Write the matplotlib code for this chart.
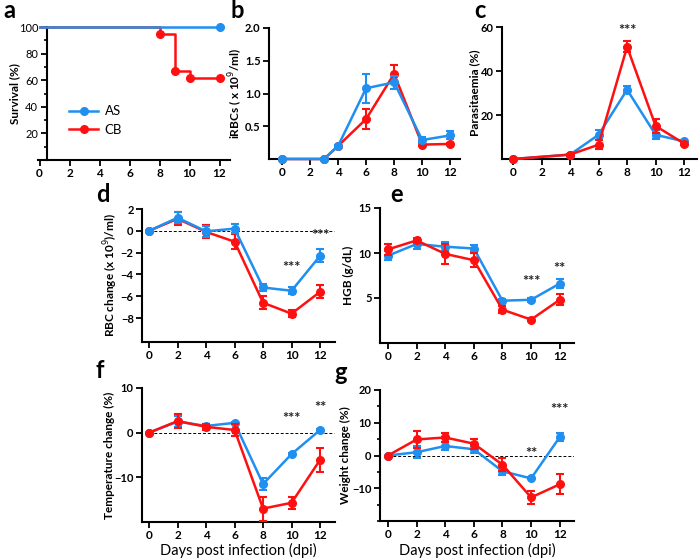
import matplotlib
matplotlib.use('Agg')
import matplotlib.pyplot as plt
from matplotlib.ticker import MultipleLocator

plt.rcParams['font.family'] = ['Lato', 'DejaVu Sans']

BLUE = '#1f8ff0'
RED = '#ff1010'

days = [0, 2, 4, 6, 8, 10, 12]

# a - survival
surv_days_as = [0, 12]
surv_as = [100, 100]
surv_days_cb = [0, 8, 9, 10, 12]
surv_cb = [100, 95, 67, 62, 62]

# b - iRBCs
irbc_days = [0, 3, 4, 6, 8, 10, 12]
irbc_as = [0, 0, 0.2, 1.08, 1.17, 0.29, 0.36]
irbc_as_err = [0, 0, 0.02, 0.22, 0.10, 0.05, 0.06]
irbc_cb = [0, 0, 0.2, 0.61, 1.30, 0.22, 0.23]
irbc_cb_err = [0, 0, 0.02, 0.15, 0.13, 0.02, 0.02]

# c - parasitaemia
para_days = [0, 4, 6, 8, 10, 12]
para_as = [0, 2, 11, 31.5, 11, 8]
para_as_err = [0, 0.3, 2.2, 1.5, 2.0, 0.8]
para_cb = [0, 2, 6.5, 51, 15, 7]
para_cb_err = [0, 0.3, 2.0, 2.5, 3.0, 0.8]

# d - RBC change
rbc_as = [0, 1.2, -0.05, 0.2, -5.2, -5.5, -2.3]
rbc_as_err = [0, 0.5, 0.5, 0.4, 0.3, 0.3, 0.6]
rbc_cb = [0, 1.1, -0.1, -1.0, -6.6, -7.6, -5.6]
rbc_cb_err = [0, 0.6, 0.6, 0.7, 0.6, 0.3, 0.6]

# e - HGB
hgb_as = [9.7, 11.0, 10.7, 10.5, 4.7, 4.8, 6.6]
hgb_as_err = [0.5, 0.5, 0.5, 0.4, 0.2, 0.2, 0.5]
hgb_cb = [10.4, 11.4, 9.9, 9.2, 3.7, 2.6, 4.8]
hgb_cb_err = [0.6, 0.3, 1.1, 0.8, 0.4, 0.2, 0.6]

# f - temperature change
temp_as = [0, 2.5, 1.5, 2.2, -11.5, -4.8, 0.6]
temp_as_err = [0, 1.2, 0.5, 0.3, 1.3, 0.3, 0.3]
temp_cb = [0, 2.6, 1.3, 0.6, -17.0, -15.7, -6.1]
temp_cb_err = [0, 1.5, 0.6, 1.3, 2.7, 1.3, 2.6]

# g - weight change
wt_as = [0, 1.0, 2.9, 1.9, -4.8, -7.0, 5.6]
wt_as_err = [0, 1.8, 1.2, 1.0, 1.2, 0.3, 1.3]
wt_cb = [0, 4.9, 5.5, 3.6, -2.8, -12.8, -8.8]
wt_cb_err = [0, 2.5, 1.5, 1.5, 2.0, 2.0, 3.0]

W, H = 700, 560
fig = plt.figure(figsize=(7, 5.6), dpi=100)


def px_axes(left, right, top, bottom):
    ax = fig.add_axes([left / W, 1 - bottom / H, (right - left) / W, (bottom - top) / H])
    ax.px_box = (left, right, top, bottom)
    return ax


def style(ax, xlim, ylim, yticks, ylabel, label_x):
    ax.set_xlim(*xlim)
    ax.set_ylim(*ylim)
    ax.spines['top'].set_visible(False)
    ax.spines['right'].set_visible(False)
    ax.spines['left'].set_linewidth(1.5)
    ax.spines['bottom'].set_linewidth(1.5)
    ax.set_xticks(days)
    ax.set_yticks(yticks)
    ax.tick_params(width=1.3, length=4, labelsize=8.5, pad=2)
    ax.tick_params(axis='y', labelsize=8)
    for lab in ax.get_xticklabels() + ax.get_yticklabels():
        lab.set_fontweight('bold')
    ax.set_ylabel(ylabel, fontsize=8.5, fontweight='bold', va='center')
    left, right, top, bottom = ax.px_box
    ax.yaxis.set_label_coords((label_x - left) / (right - left), 0.5)


def xlabel(ax, text):
    left, right, top, bottom = ax.px_box
    ax.set_xlabel(text, fontsize=10.5, va='center')
    ax.xaxis.set_label_coords(0.5, (bottom - 550) / (bottom - top))


def series(ax, x, y, err, color, z):
    ax.errorbar(x, y, yerr=err, color=color, lw=1.8, marker='o', ms=5.5,
                capsize=3, elinewidth=1.5, capthick=1.5, zorder=z, clip_on=False)


def stars(ax, x, y, txt):
    ax.text(x, y, txt, ha='center', va='center', fontsize=10.5, fontweight='bold', color='#222222')


def zero_line(ax):
    ax.plot([0, 13], [0, 0], ls='--', color='black', lw=0.7, dashes=(3, 2), zorder=1)


# panel a
ax = px_axes(38, 230, 27, 160)
style(ax, (-0.1, 12.7), (0, 100), [20, 40, 60, 80, 100], 'Survival (%)', 15)
ax.spines['left'].set_position(('data', 0.47))
ax.yaxis.set_minor_locator(MultipleLocator(10))
ax.tick_params(which='minor', length=2.5, width=1.2)
ax.step(surv_days_cb, surv_cb, where='post', color=RED, lw=1.8, zorder=3, clip_on=False)
ax.plot(surv_days_cb[1:], surv_cb[1:], 'o', color=RED, ms=5.5, zorder=3, clip_on=False)
ax.plot(surv_days_as, surv_as, color=BLUE, lw=1.8, zorder=4, clip_on=False)
ax.plot(surv_days_as[-1:], surv_as[-1:], 'o', color=BLUE, ms=5.5, zorder=4, clip_on=False)
h1, = ax.plot([], [], color=BLUE, lw=1.8, marker='o', ms=5.5)
h2, = ax.plot([], [], color=RED, lw=1.8, marker='o', ms=5.5)
ax.legend([h1, h2], ['AS', 'CB'], loc='upper left', bbox_to_anchor=(0.1, 0.5), frameon=False,
          fontsize=9.5, handlelength=2.2, labelspacing=0.5, handletextpad=0.5)

# panel b
ax = px_axes(269, 460, 28, 159)
style(ax, (-0.93, 12.7), (0, 2.0), [0.5, 1.0, 1.5, 2.0], 'iRBCs ( x 10$^{9}$/ml)', 236)
ax.set_yticklabels(['0.5', '1.0', '1.5', '2.0'], fontweight='bold')
series(ax, irbc_days, irbc_cb, irbc_cb_err, RED, 3)
series(ax, irbc_days, irbc_as, irbc_as_err, BLUE, 4)

# panel c
ax = px_axes(502, 697, 27, 159)
style(ax, (-0.77, 12.9), (0, 60), [20, 40, 60], 'Parasitaemia (%)', 475)
series(ax, para_days, para_as, para_as_err, BLUE, 3)
series(ax, para_days, para_cb, para_cb_err, RED, 4)
stars(ax, 8, 58, '***')

# panel d
ax = px_axes(142, 335, 209, 342)
style(ax, (-0.5, 13.05), (-10.2, 2), [-8, -6, -4, -2, 0, 2], 'RBC change (x 10$^{9}$)/ml)', 111)
zero_line(ax)
series(ax, days, rbc_cb, rbc_cb_err, RED, 3)
series(ax, days, rbc_as, rbc_as_err, BLUE, 4)
stars(ax, 10, -3.4, '***')
stars(ax, 12, -0.45, '***')

# panel e
ax = px_axes(380, 574, 208, 343)
style(ax, (-0.56, 13.0), (0, 15), [5, 10, 15], 'HGB (g/dL)', 348)
series(ax, days, hgb_as, hgb_as_err, BLUE, 3)
series(ax, days, hgb_cb, hgb_cb_err, RED, 4)
stars(ax, 10, 6.8, '***')
stars(ax, 12, 8.2, '**')

# panel f
ax = px_axes(142, 335, 388, 522)
style(ax, (-0.5, 13.05), (-20, 10), [-10, 0, 10], 'Temperature change (%)', 109)
zero_line(ax)
series(ax, days, temp_as, temp_as_err, BLUE, 3)
series(ax, days, temp_cb, temp_cb_err, RED, 4)
stars(ax, 10, 3.1, '***')
stars(ax, 12, 5.6, '**')
xlabel(ax, 'Days post infection (dpi)')

# panel g
ax = px_axes(380, 574, 390, 521)
style(ax, (-0.56, 13.0), (-20, 20), [-10, 0, 10, 20], 'Weight change (%)', 345)
ax.yaxis.set_minor_locator(MultipleLocator(5))
ax.tick_params(which='minor', length=2.5, width=1.2)
zero_line(ax)
series(ax, days, wt_as, wt_as_err, BLUE, 3)
series(ax, days, wt_cb, wt_cb_err, RED, 4)
stars(ax, 10, 0.6, '**')
stars(ax, 12, 14, '***')
xlabel(ax, 'Days post infection (dpi)')

# panel letters
for letter, x, y in [('a', 3, 18), ('b', 230, 18), ('c', 474, 18),
                     ('d', 96, 202), ('e', 390, 202), ('f', 96, 378), ('g', 334, 380)]:
    fig.text(x / W, 1 - y / H, letter, fontsize=17, fontweight='bold', va='baseline', ha='left')

fig.savefig('out.png', dpi=100)
